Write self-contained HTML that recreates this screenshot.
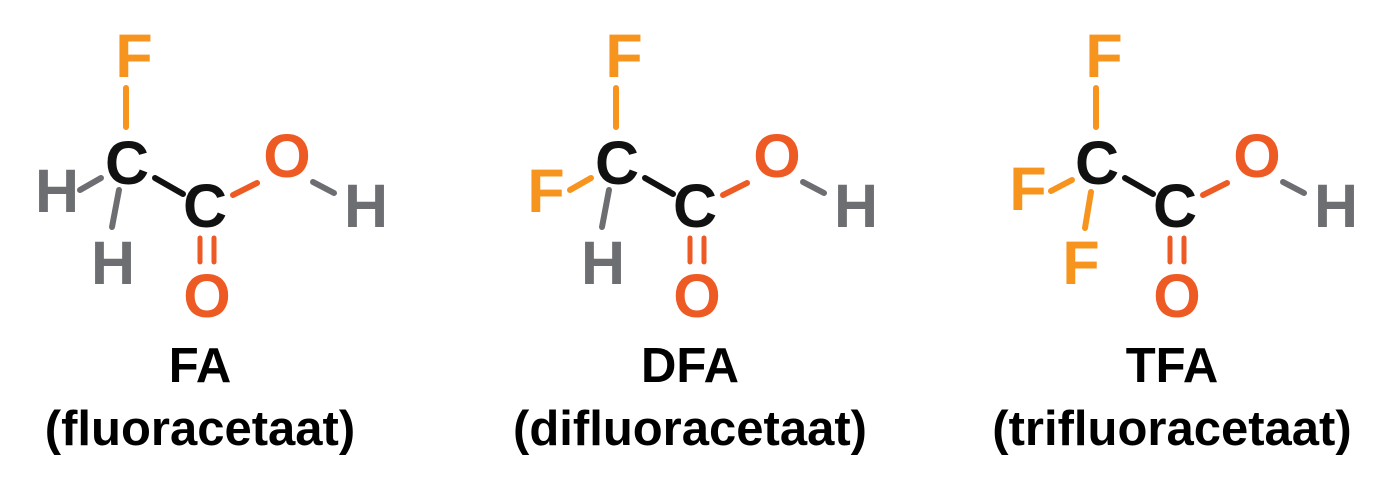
<!DOCTYPE html>
<html><head><style>html,body{margin:0;padding:0;background:#fff}svg{display:block}</style></head><body>
<svg width="1376" height="480" viewBox="0 0 1376 480" xmlns="http://www.w3.org/2000/svg" font-family="Liberation Sans, sans-serif" font-weight="bold">
<defs>
<g id="core">
  <line x1="155" y1="178" x2="183" y2="194" stroke="#111" stroke-width="6" stroke-linecap="round"/>
  <line x1="233" y1="195" x2="257" y2="183" stroke="#ee5a24" stroke-width="6" stroke-linecap="round"/>
  <line x1="313" y1="182" x2="334" y2="193" stroke="#6d6e71" stroke-width="6" stroke-linecap="round"/>
  <line x1="200" y1="238" x2="200" y2="262" stroke="#ee5a24" stroke-width="5" stroke-linecap="round"/>
  <line x1="214" y1="238" x2="214" y2="262" stroke="#ee5a24" stroke-width="5" stroke-linecap="round"/>
  <line x1="126" y1="88" x2="126" y2="127" stroke="#f7941d" stroke-width="6" stroke-linecap="round"/>
  <g font-size="61" text-anchor="middle">
    <text x="127" y="184" fill="#111">C</text>
    <text x="205" y="227" fill="#111">C</text>
    <text x="287" y="177" fill="#ee5a24">O</text>
    <text x="207" y="317" fill="#ee5a24">O</text>
    <text x="366" y="227" fill="#6d6e71">H</text>
    <text x="134" y="77" fill="#f7941d">F</text>
  </g>
</g>
</defs>
<!-- FA -->
<use href="#core"/>
<line x1="80" y1="190" x2="101" y2="178" stroke="#6d6e71" stroke-width="6" stroke-linecap="round"/>
<line x1="119" y1="190" x2="112" y2="227" stroke="#6d6e71" stroke-width="6" stroke-linecap="round"/>
<g font-size="61" text-anchor="middle" fill="#6d6e71">
<text x="57" y="212">H</text><text x="113" y="284">H</text></g>
<!-- DFA -->
<use href="#core" x="490"/>
<line x1="570" y1="190" x2="591" y2="178" stroke="#f7941d" stroke-width="6" stroke-linecap="round"/>
<line x1="609" y1="190" x2="602" y2="227" stroke="#6d6e71" stroke-width="6" stroke-linecap="round"/>
<g font-size="61" text-anchor="middle">
<text x="546" y="212" fill="#f7941d">F</text><text x="603" y="284" fill="#6d6e71">H</text></g>
<!-- TFA -->
<use href="#core" x="970"/>
<line x1="1051" y1="191" x2="1072" y2="180" stroke="#f7941d" stroke-width="6" stroke-linecap="round"/>
<line x1="1091" y1="192" x2="1085" y2="228" stroke="#f7941d" stroke-width="6" stroke-linecap="round"/>
<g font-size="61" text-anchor="middle" fill="#f7941d">
<text x="1028" y="210">F</text><text x="1081" y="284">F</text></g>
<!-- labels -->
<g font-size="49" text-anchor="middle" fill="#000">
<text x="200" y="382">FA</text><text x="200" y="445">(fluoracetaat)</text>
<text x="690" y="382">DFA</text><text x="690" y="445">(difluoracetaat)</text>
<text x="1172" y="382">TFA</text><text x="1172" y="445">(trifluoracetaat)</text>
</g>
</svg>
</body></html>
